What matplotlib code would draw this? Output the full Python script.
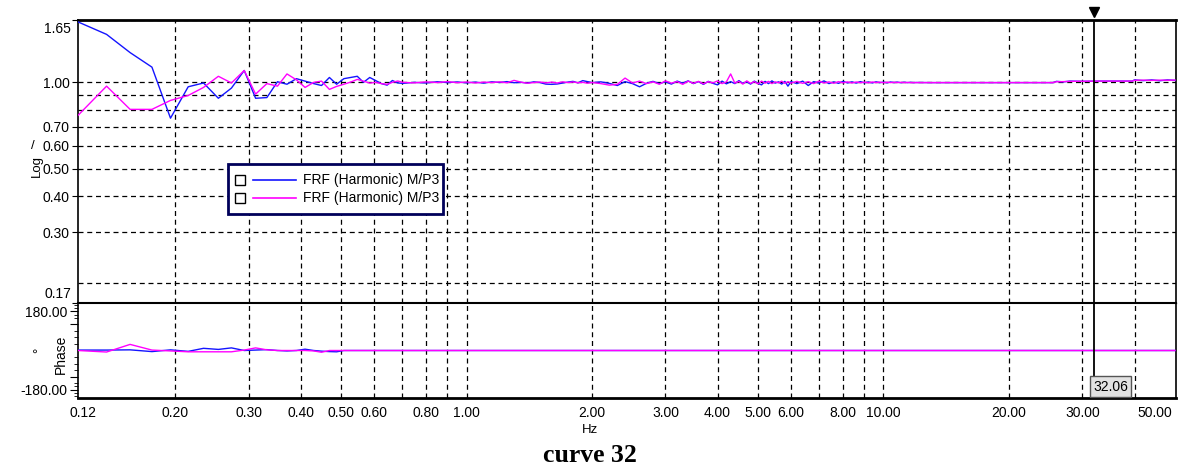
import matplotlib
import matplotlib.pyplot as plt
from matplotlib.ticker import FixedLocator, FixedFormatter, NullFormatter, NullLocator
from matplotlib.transforms import blended_transform_factory
from matplotlib.patches import Rectangle
from matplotlib.lines import Line2D

matplotlib.use("Agg")
plt.rcParams['font.family'] = ['Liberation Sans', 'DejaVu Sans']

# frequency grid (Hz), shared by both FRF curves
freq_hz = [
    0.117, 0.137, 0.156, 0.176, 0.195, 0.215, 0.234, 0.254, 0.273, 0.293,
    0.312, 0.332, 0.352, 0.371, 0.391, 0.410, 0.430, 0.449, 0.469, 0.488,
    0.508, 0.527, 0.547, 0.566, 0.586, 0.605, 0.625, 0.645, 0.664, 0.684, 0.703,
    0.75, 0.80, 0.85, 0.90, 0.95, 1.00, 1.05, 1.10, 1.15, 1.20, 1.25, 1.30, 1.35,
    1.40, 1.45, 1.50, 1.55, 1.60, 1.65, 1.70, 1.75, 1.80, 1.85, 1.90, 1.95, 2.00,
    2.1, 2.2, 2.3, 2.4, 2.5, 2.6, 2.7, 2.8, 2.9, 3.0, 3.1, 3.2, 3.3, 3.4, 3.5,
    3.6, 3.7, 3.8, 3.9, 4.0, 4.1, 4.2, 4.3, 4.4, 4.5, 4.6, 4.7, 4.8, 4.9, 5.0,
    5.1, 5.2, 5.3, 5.4, 5.5, 5.6, 5.7, 5.8, 5.9, 6.0,
    6.2, 6.4, 6.6, 6.8, 7.0, 7.2, 7.4, 7.6, 7.8, 8.0, 8.2, 8.4, 8.6, 8.8, 9.0,
    9.2, 9.4, 9.6, 9.8, 10.0, 10.2, 10.4, 10.6, 10.8, 11.0, 11.2, 11.4, 11.6, 11.8, 12.0,
    13.0, 16.0, 20.0, 25.5, 26.0, 27.0, 28.0, 30.0, 33.0, 36.0, 39.5, 40.0,
    42.0, 44.0, 46.0, 48.0, 50.0,
]

mag_blue = [
    1.625, 1.47, 1.27, 1.13, 0.75, 0.965, 0.995, 0.88, 0.955, 1.10,
    0.88, 0.885, 1.005, 0.985, 1.03, 1.01, 0.99, 0.975, 1.04, 0.985,
    1.03, 1.04, 1.05, 1.0, 1.04, 1.015, 0.99, 0.978, 1.015, 0.995, 0.992,
    1.0, 0.995, 1.005, 0.998, 1.003, 0.996, 1.002, 0.994, 1.004, 0.999, 1.006, 0.997, 1.0,
    0.995, 1.004, 0.998, 0.986, 0.984, 0.987, 0.995, 1.002, 1.008, 0.996, 1.014, 1.006, 0.998,
    1.004, 0.992, 0.975, 1.006, 0.99, 0.965, 0.992, 1.008, 0.99, 1.004, 0.986, 1.01, 0.994, 1.012, 0.99,
    1.006, 0.984, 1.008, 0.992, 0.98, 1.01, 0.988, 1.006, 0.99, 1.014, 0.992, 1.004, 0.986, 1.01, 0.992,
    0.98, 1.008, 0.99, 1.012, 0.994, 1.004, 0.986, 1.008, 0.97, 1.006,
    0.99, 1.01, 0.975, 1.006, 0.994, 1.012, 0.99, 1.004, 0.992, 1.008, 0.995, 1.004, 0.994, 1.006, 0.996,
    1.003, 0.995, 1.004, 0.997, 1.002, 0.996, 1.003, 0.998, 1.002, 0.997, 1.001, 0.998, 1.0, 0.998, 0.999,
    0.998, 0.998, 0.998, 0.998, 1.008, 1.004, 1.01, 1.008, 1.01, 1.01, 1.01, 1.02,
    1.014, 1.02, 1.013, 1.02, 1.016,
]

mag_magenta = [
    0.767, 0.97, 0.805, 0.805, 0.865, 0.90, 0.96, 1.05, 0.995, 1.10,
    0.91, 0.99, 0.97, 1.07, 1.02, 0.96, 1.0, 1.01, 0.945, 0.968,
    0.985, 1.002, 1.024, 1.01, 0.994, 1.0, 0.99, 0.984, 1.0, 1.011, 1.0,
    0.996, 1.004, 0.998, 1.006, 0.997, 1.003, 0.995, 1.002, 0.998, 1.004, 0.996, 1.016, 1.002,
    0.993, 0.998, 1.003, 0.996, 1.002, 0.995, 1.004, 0.998, 1.003, 0.997, 1.0, 0.993, 0.999,
    0.99, 0.978, 0.984, 1.035, 0.995, 1.01, 0.99, 1.004, 0.985, 1.012, 0.994, 1.006, 0.984, 1.01, 0.992,
    1.008, 0.988, 1.006, 0.996, 1.012, 0.99, 1.004, 1.07, 0.994, 1.008, 0.986, 1.012, 0.992, 1.006, 0.988,
    1.01, 0.994, 1.008, 0.99, 1.004, 0.996, 1.01, 0.992, 1.006, 0.994,
    1.008, 0.992, 1.006, 0.99, 1.01, 0.995, 1.004, 0.993, 1.006, 0.996, 1.004, 0.995, 1.003, 0.997, 1.002,
    0.996, 1.003, 0.998, 1.002, 0.997, 1.001, 0.998, 1.0, 0.998, 1.0, 0.998, 0.999, 0.998, 0.998, 0.998,
    0.998, 0.998, 0.998, 0.998, 1.005, 1.006, 1.008, 1.009, 1.01, 1.01, 1.01, 1.016,
    1.018, 1.016, 1.018, 1.017, 1.018,
]

# phase (deg): only the low-frequency part deviates from zero
phase_freq_hz = [
    0.117, 0.137, 0.156, 0.176, 0.195, 0.215, 0.234, 0.254, 0.273, 0.293,
    0.312, 0.332, 0.352, 0.371, 0.391, 0.410, 0.430, 0.449, 0.469, 0.488,
    0.508, 50.0,
]
phase_blue = [2, 2, 3, -5, 3, -4, 10, 5, 12, 0,
              2, 4, 0, -2, 0, 6, 0, -3, -5, -6,
              0, 0]
phase_magenta = [0, -7, 28, 2, -2, -6, -6, -6, -6, 2,
                 12, 3, 0, 0, 0, 0, -2, -8, 0, 0,
                 0, 0]

x_ticks = [0.12, 0.2, 0.3, 0.4, 0.5, 0.6, 0.8, 1, 2, 3, 4, 5, 6, 8, 10, 20, 30]
x_tick_labels = ['0.12', '0.20', '0.30', '0.40', '0.50', '0.60', '0.80', '1.00', '2.00',
                 '3.00', '4.00', '5.00', '6.00', '8.00', '10.00', '20.00', '30.00']
x_last_label = 50.0
grid_hz = [0.2, 0.3, 0.4, 0.5, 0.6, 0.7, 0.8, 0.9, 1, 2, 3, 4, 5, 6, 7, 8, 9, 10, 20, 30, 40]
mag_ticks = [0.17, 0.3, 0.4, 0.5, 0.6, 0.7, 1.0, 1.65]
mag_tick_labels = ['', '0.30', '0.40', '0.50', '0.60', '0.70', '1.00', '']
mag_grid_extra = [0.2, 0.8, 0.9]
cursor_hz = 32.06
legend_labels = ['FRF (Harmonic) M/P3', 'FRF (Harmonic) M/P3']

BLUE = '#1414ff'
MAGENTA = '#ff00ff'
W, H = 1184, 473


def fx(px):
    return px / W


def fy(py):
    return 1 - py / H


fig = plt.figure(figsize=(11.84, 4.73), dpi=100)
ax_mag = fig.add_axes([fx(78), fy(303), (1176 - 78) / W, (303 - 20) / H])
ax_ph = fig.add_axes([fx(78), fy(398), (1176 - 78) / W, (398 - 303) / H], sharex=ax_mag)

grid_kw = dict(color='black', linestyle=(0, (4, 3)), linewidth=0.9)

# magnitude panel
ax_mag.plot(freq_hz, mag_blue, color=BLUE, lw=1.0, zorder=3)
ax_mag.plot(freq_hz, mag_magenta, color=MAGENTA, lw=1.0, zorder=3)
ax_mag.set_xscale('log')
ax_mag.set_yscale('log')
ax_mag.set_xlim(0.117, 50.3)
ax_mag.set_ylim(0.17, 1.65)
ax_mag.yaxis.set_major_locator(FixedLocator(mag_ticks))
ax_mag.yaxis.set_major_formatter(FixedFormatter(mag_tick_labels))
ax_mag.yaxis.set_minor_locator(FixedLocator(mag_grid_extra))
ax_mag.yaxis.set_minor_formatter(NullFormatter())
ax_mag.tick_params(axis='y', which='major', length=4, labelsize=10, pad=2)
ax_mag.tick_params(axis='y', which='minor', length=0)
ax_mag.tick_params(axis='x', which='both', length=0, labelbottom=False)
ax_mag.grid(True, which='both', axis='y', **grid_kw)

# edge labels sit inside the axis range
edge_tf = dict(xycoords=('axes fraction', 'data'), textcoords='offset pixels',
               ha='right', va='center', fontsize=10)
ax_mag.annotate('1.65', xy=(0, 1.65), xytext=(-7, -9), **edge_tf)
ax_mag.annotate('0.17', xy=(0, 0.17), xytext=(-7, 9), **edge_tf)

for side in ['left', 'right']:
    ax_mag.spines[side].set_linewidth(1.2)
ax_mag.spines['top'].set_linewidth(2)
ax_mag.spines['bottom'].set_linewidth(1.0)
ax_mag.spines['bottom'].set_color('#777777')

# phase panel
ax_ph.plot(phase_freq_hz, phase_blue, color=BLUE, lw=1.0, zorder=3)
ax_ph.plot(phase_freq_hz, phase_magenta, color=MAGENTA, lw=1.0, zorder=3)
ax_ph.set_ylim(-218, 218)
ax_ph.yaxis.set_major_locator(FixedLocator([-180, -120, 120, 180]))
ax_ph.yaxis.set_major_formatter(FixedFormatter(['-180.00', '', '', '180.00']))
ax_ph.yaxis.set_minor_locator(FixedLocator([-210, -195, -165, -150, -90, -60, -30,
                                            30, 60, 90, 150, 165, 195, 210]))
ax_ph.yaxis.set_minor_formatter(NullFormatter())
ax_ph.tick_params(axis='y', which='major', length=6, labelsize=10, pad=2)
ax_ph.tick_params(axis='y', which='minor', length=3)
ax_ph.xaxis.set_major_locator(FixedLocator(x_ticks))
ax_ph.xaxis.set_major_formatter(FixedFormatter(x_tick_labels))
ax_ph.xaxis.set_minor_locator(NullLocator())
ax_ph.tick_params(axis='x', which='both', length=0, pad=6, labelsize=10)
ax_ph.set_xlim(0.117, 50.3)
ax_ph.annotate(f'{x_last_label:.2f}', xy=(x_last_label, 0),
               xycoords=('data', 'axes fraction'), textcoords='offset pixels',
               xytext=(-3, -8), ha='right', va='top', fontsize=10)
for side in ['left', 'right']:
    ax_ph.spines[side].set_linewidth(1.2)
ax_ph.spines['top'].set_linewidth(1.5)
ax_ph.spines['bottom'].set_linewidth(2)

# vertical dashed grid in both panels
for ax in (ax_mag, ax_ph):
    for g in grid_hz:
        ax.axvline(g, zorder=1, **grid_kw)

# cursor
for ax in (ax_mag, ax_ph):
    ax.axvline(cursor_hz, color='black', lw=1.3, zorder=4)
top_tf = blended_transform_factory(ax_mag.transData, ax_mag.transAxes)
ax_mag.plot([cursor_hz], [1.028], marker='v', ms=7, color='black',
            transform=top_tf, clip_on=False, zorder=6)
ax_ph.annotate(f'{cursor_hz:.2f}', xy=(cursor_hz, 0.12),
               xycoords=('data', 'axes fraction'), textcoords='offset pixels',
               xytext=(16, 0), ha='center', va='center', fontsize=10, zorder=7,
               bbox=dict(boxstyle='square,pad=0.25', fc='#e2e2e2', ec='#555555', lw=1))

# legend box
fig.add_artist(Rectangle((fx(228), fy(214)), fx(443) - fx(228), fy(164) - fy(214),
                         transform=fig.transFigure, facecolor='white',
                         edgecolor='#00005a', lw=2, zorder=5))
for row_y, color, label in zip([180, 198], [BLUE, MAGENTA], legend_labels):
    fig.add_artist(Rectangle((fx(235), fy(row_y + 5)), 10 / W, 10 / H,
                             transform=fig.transFigure, facecolor='white',
                             edgecolor='black', lw=1, zorder=6))
    fig.add_artist(Line2D([fx(253), fx(296)], [fy(row_y), fy(row_y)],
                          transform=fig.transFigure, color=color, lw=1.2, zorder=6))
    fig.text(fx(303), fy(row_y), label, ha='left', va='center', fontsize=10, zorder=6)

# axis captions
fig.text(fx(33), fy(146), '/', ha='center', va='center', fontsize=9.5)
fig.text(fx(37), fy(166), 'Log', rotation=90, ha='center', va='center', fontsize=9.5)
fig.text(fx(39), fy(350), '°', rotation=90, ha='center', va='center', fontsize=9.5)
fig.text(fx(61), fy(354), 'Phase', rotation=90, ha='center', va='center', fontsize=10)
fig.text(fx(590), fy(430), 'Hz', ha='center', va='center', fontsize=9.5)
fig.text(fx(590), fy(455), 'curve 32', ha='center', va='center', fontsize=18.5,
         family=['Liberation Serif', 'DejaVu Serif'], weight='bold')

fig.savefig('out.png', dpi=100)
plt.close(fig)
